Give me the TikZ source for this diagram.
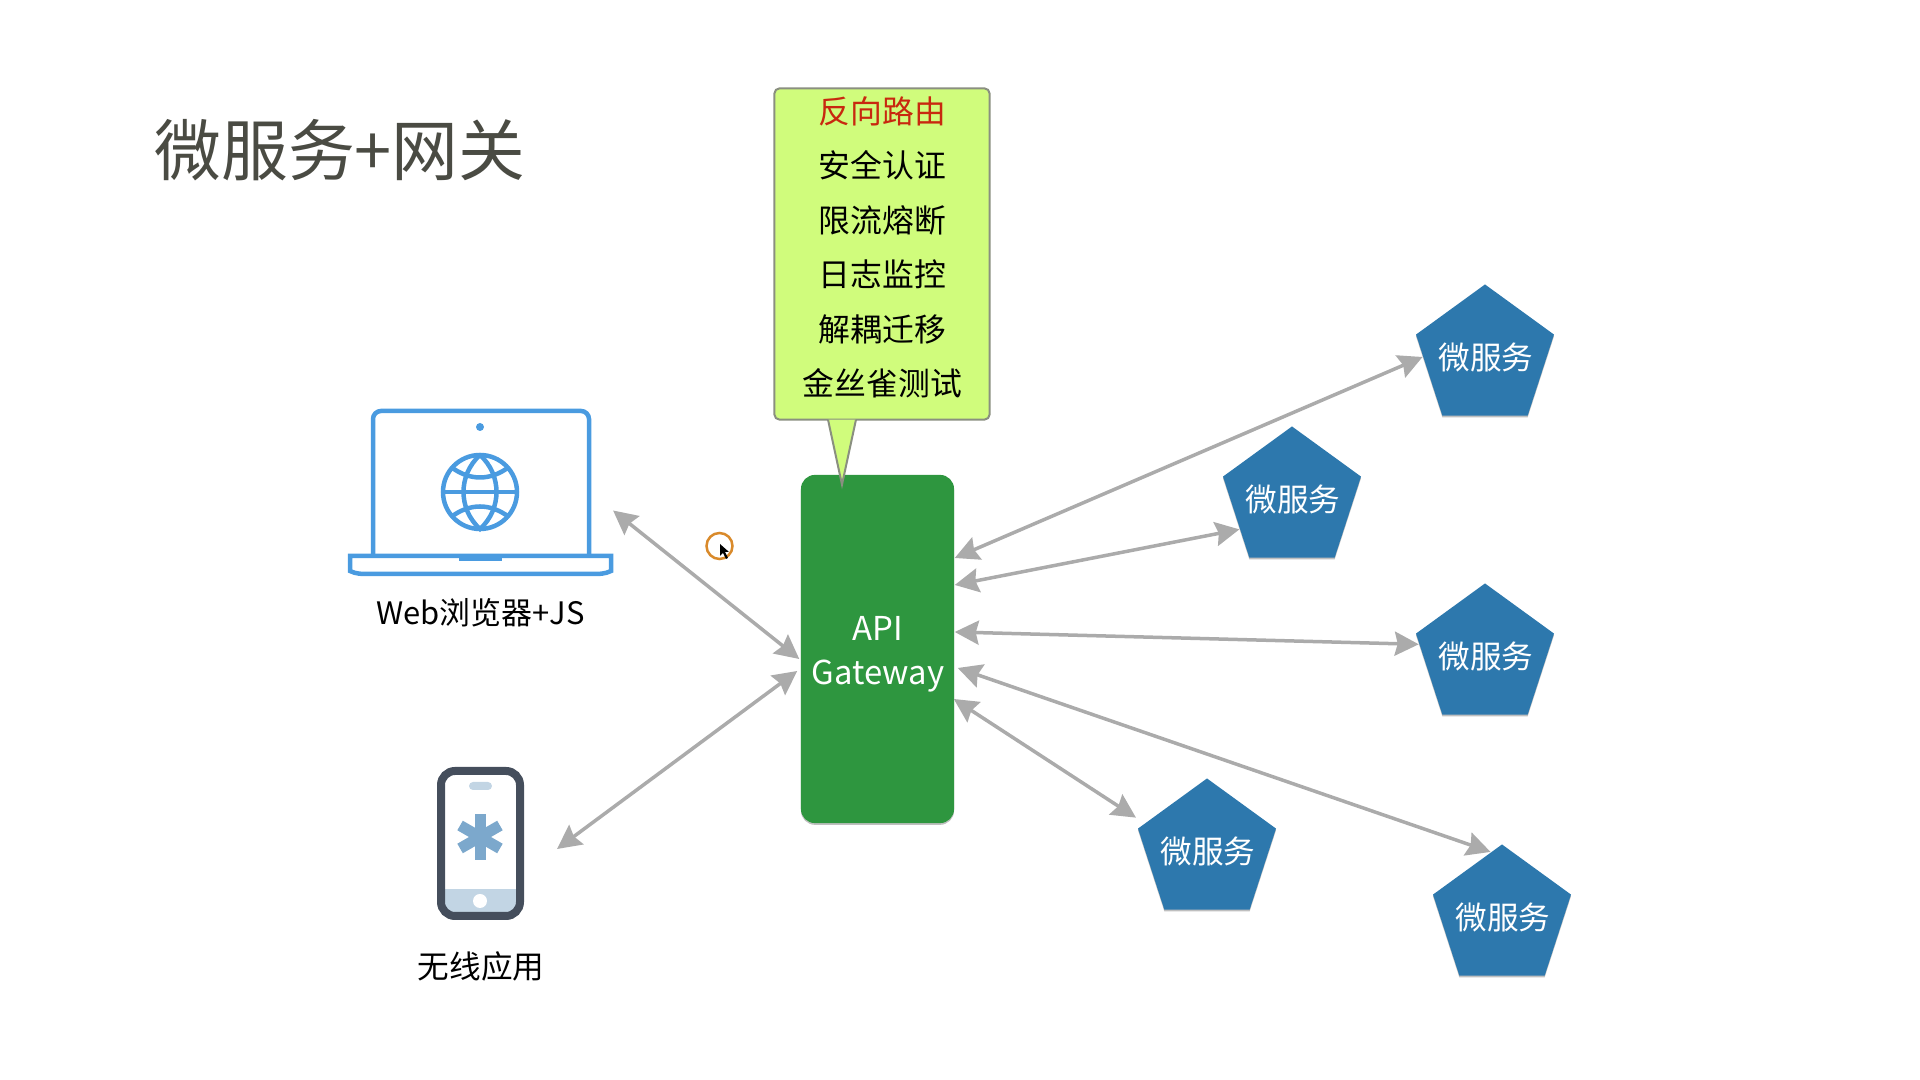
\documentclass[tikz,border=0pt]{standalone}
\usepackage{fontspec}
\setmainfont{Noto Sans CJK SC}
\usepackage{tikz}
\usetikzlibrary{shapes.geometric,arrows.meta,calc,shadows}
\usepackage{xcolor}
\definecolor{gwgreen}{HTML}{2E963F}
\definecolor{svcblue}{HTML}{2D78AD}
\definecolor{tiplime}{HTML}{D0FC7C}
\definecolor{tipedge}{HTML}{8A8F80}
\definecolor{tipred}{HTML}{C8280F}
\definecolor{linkgray}{HTML}{ABABAB}
\definecolor{laptopblue}{HTML}{4A9BE0}
\definecolor{phonedark}{HTML}{454E5C}
\definecolor{phonemid}{HTML}{7CA8CC}
\definecolor{phonepale}{HTML}{C2D5E4}
\definecolor{titlegray}{HTML}{4A4B43}
\definecolor{ringorange}{HTML}{D98A2B}
\newcommand{\svclabel}{\smash{\makebox[0pt]{\hspace{0.6pt}\raisebox{-0.40em}{微服务}}}}
\tikzset{
  softshadow/.style={drop shadow={shadow xshift=0pt,shadow yshift=-0.5pt,opacity=.25,fill=black}},
  service/.style={regular polygon,regular polygon sides=5,minimum size=1.45cm,inner sep=0pt,
    fill=svcblue,text=white,font=\fontsize{9}{11}\selectfont,softshadow},
  link/.style={draw=linkgray,line width=0.035cm,{Stealth[length=0.24cm,width=0.24cm,inset=0.03cm]}-{Stealth[length=0.24cm,width=0.24cm,inset=0.03cm]}},
  caption/.style={font=\fontsize{9}{11}\selectfont,text=black},
  laptopline/.style={draw=laptopblue,line width=0.045cm},
  iconbox/.style={inner sep=0pt,outer sep=0pt}
}

\begin{document}
\begin{tikzpicture}[x=0.01cm,y=-0.01cm]
  \useasboundingbox (0,0) rectangle (1920,1080);
  \node[text=titlegray,font=\fontsize{19}{23}\selectfont] (title) at (340,150) {微服务+网关};

  \node[fill=gwgreen,rounded corners=0.14cm,minimum width=1.53cm,minimum height=3.48cm,inner sep=0pt,softshadow] (gw) at (877.5,649) {};
  \node[text=white,align=center,font=\fontsize{9.35}{12.5}\selectfont] (gwtext) at (878,654) {API\\Gateway};

  \node[draw=tipedge,line width=0.02cm,fill=tiplime,rounded corners=0.05cm,minimum width=2.15cm,minimum height=3.31cm,inner sep=0pt] (tipbox) at (882,254) {};
  \filldraw[draw=tipedge,fill=tiplime,line width=0.02cm] ($(tipbox.south)+(-54,-1)$) -- ($(tipbox.south)+(-40,64)$) -- ($(tipbox.south)+(-26,-1)$);
  \node[align=center,inner sep=0pt,font=\fontsize{9.05}{15.5}\selectfont] (tiptext) at (882.5,247.5)
    {\textcolor{tipred}{反向路由}\\安全认证\\限流熔断\\日志监控\\解耦迁移\\金丝雀测试};

  \node[service] (s1) at (1485,357) {\svclabel};
  \node[service] (s2) at (1292,499) {\svclabel};
  \node[service] (s3) at (1485,656) {\svclabel};
  \node[service] (s4) at (1207,851) {\svclabel};
  \node[service] (s5) at (1502,917) {\svclabel};

  \node[iconbox,minimum width=2.65cm,minimum height=1.67cm] (laptop) at (480.5,492.5) {};
  \draw[laptopline,rounded corners=0.08cm] (373,556) -- (373,411) -- (589,411) -- (589,556);
  \draw[laptopline] (350,556) -- (611,556) -- (611,571) .. controls (605,574) and (600,574) .. (590,574) -- (371,574) .. controls (361,574) and (356,574) .. (350,571) -- cycle;
  \fill[laptopblue] (459,555) rectangle (502,561);
  \fill[laptopblue] (480,427) circle[radius=4];
  \draw[laptopline] (480,492) circle[radius=37];
  \draw[laptopline] (443,492) -- (517,492);
  \draw[laptopline] (480,455) .. controls (458,475) and (458,509) .. (480,529) .. controls (502,509) and (502,475) .. (480,455);
  \draw[laptopline] (451,467) .. controls (470,481) and (490,481) .. (509,467);
  \draw[laptopline] (451,517) .. controls (470,503) and (490,503) .. (509,517);
  \node[caption,font=\fontsize{8.8}{11}\selectfont] (weblabel) at (480.5,613) {Web浏览器+JS};

  \node[iconbox,minimum width=0.87cm,minimum height=1.53cm] (phone) at (480.5,843.5) {};
  \fill[phonepale] (445,889) rectangle (516,914);
  \draw[draw=phonedark,line width=0.08cm,rounded corners=0.14cm] (441,771) rectangle (520,916);
  \fill[phonepale,rounded corners=0.04cm] (469,782) rectangle (492,790);
  \fill[white] (480,901) circle[radius=7];
  \foreach \a in {90,30,150}
    \draw[phonemid,line width=0.11cm] (480,837) ++(\a:23) -- ++(\a+180:46);
  \node[caption] (applabel) at (481,966) {无线应用};

  \coordinate (phonend) at (557,849);
  \draw[link] ($(gw.west)+(-1,10)$) -- ($(laptop.east)+(0,18)$);
  \draw[link] ($(gw.west)+(-3,22)$) -- (phonend);
  \draw[link] ($(gw.east)+(0,-91)$) -- (s1.west);
  \draw[link] ($(gw.east)+(0,-64)$) -- (s2.210);
  \draw[link] ($(gw.east)+(0,-17)$) -- (s3.170);
  \draw[link,shorten >=0.1cm] ($(gw.east)+(-1,50)$) -- (s4.156);
  \draw[link] ($(gw.east)+(3,19)$) -- (s5.100);

  \draw[ringorange,line width=0.025cm] (719.5,546) circle[radius=13];
  \fill[black] (720,544) -- (720,556) -- (723,553) -- (726,559) -- (728,558) -- (725,552) -- (729,552) -- cycle;
\end{tikzpicture}
\end{document}
